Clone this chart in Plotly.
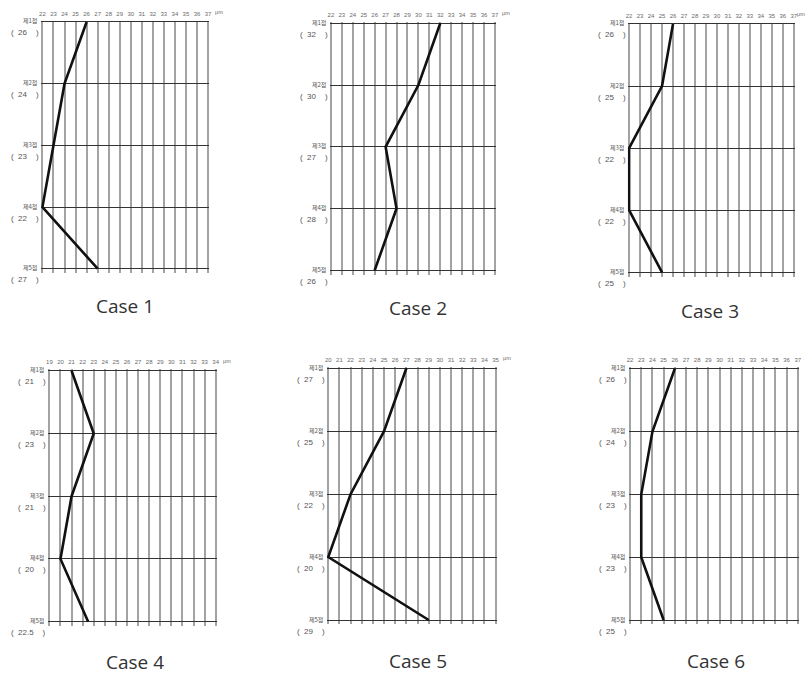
import plotly.graph_objects as go

W, H = 807, 675

row_names = ["제1점", "제2점", "제3점", "제4점", "제5점"]
row_pos = [1, 2, 3, 4, 5]

case_titles = ["Case 1", "Case 2", "Case 3", "Case 4", "Case 5", "Case 6"]

case1_values = [26, 24, 23, 22, 27]
case2_values = [32, 30, 27, 28, 26]
case3_values = [26, 25, 22, 22, 25]
case4_values = [21, 23, 21, 20, 22.5]
case5_values = [27, 25, 22, 20, 29]
case6_values = [26, 24, 23, 23, 25]

case1_labels = ["26", "24", "23", "22", "27"]
case2_labels = ["32", "30", "27", "28", "26"]
case3_labels = ["26", "25", "22", "22", "25"]
case4_labels = ["21", "23", "21", "20", "22.5"]
case5_labels = ["27", "25", "22", "20", "29"]
case6_labels = ["26", "24", "23", "23", "25"]

ticks_22_37 = [22, 23, 24, 25, 26, 27, 28, 29, 30, 31, 32, 33, 34, 35, 36, 37]
ticks_19_34 = [19, 20, 21, 22, 23, 24, 25, 26, 27, 28, 29, 30, 31, 32, 33, 34]
ticks_20_35 = [20, 21, 22, 23, 24, 25, 26, 27, 28, 29, 30, 31, 32, 33, 34, 35]

unit_label = "μm"

cases = [
    (case1_values, case1_labels, ticks_22_37),
    (case2_values, case2_labels, ticks_22_37),
    (case3_values, case3_labels, ticks_22_37),
    (case4_values, case4_labels, ticks_19_34),
    (case5_values, case5_labels, ticks_20_35),
    (case6_values, case6_labels, ticks_22_37),
]

# whether the unit label is visible inside the picture, and its offset (layout only)
show_unit = [True, True, True, True, True, False]
unit_shift = [5, 5, 1, 5, 5, 5]

# pixel geometry (layout only): first tick x, last tick x, row1 y, row5 y, caption center x, caption y
geom = [
    (40.7, 207.3, 22.0, 268.7, 124, 306),
    (331.0, 496.0, 23.3, 270.3, 419, 308),
    (631.0, 796.7, 24.0, 272.3, 712, 311),
    (47.7, 215.0, 370.7, 621.7, 134, 662),
    (328.3, 496.7, 368.3, 620.0, 419, 661),
    (632.0, 800.7, 368.7, 620.0, 718, 661),
]

fig = go.Figure()
annotations = []
XPAD = 0.12
YPAD_TOP = 0.02
YPAD_BOT = 0.07

for i, ((vals, labs, ticks), (pl, pr, pt, pb, cx, cy)) in enumerate(zip(cases, geom)):
    n = i + 1
    xa = "xaxis" if n == 1 else f"xaxis{n}"
    ya = "yaxis" if n == 1 else f"yaxis{n}"
    xr = "x" if n == 1 else f"x{n}"
    yr = "y" if n == 1 else f"y{n}"
    xmin, xmax = ticks[0], ticks[-1]
    ux = (pr - pl) / (xmax - xmin)
    uy = (pb - pt) / (row_pos[-1] - row_pos[0])
    d_left = (pl - XPAD * ux) / W
    d_right = (pr + XPAD * ux) / W
    top_px = pt - YPAD_TOP * uy
    bot_px = pb + YPAD_BOT * uy
    d_top = 1 - top_px / H
    d_bot = 1 - bot_px / H

    fig.add_trace(go.Scatter(
        x=vals, y=row_pos, mode="lines",
        line=dict(color="#111111", width=2.6),
        xaxis=xr, yaxis=yr, showlegend=False, hoverinfo="skip",
    ))

    fig.layout[xa] = dict(
        domain=[d_left, d_right], range=[xmin - XPAD, xmax + XPAD],
        side="top", anchor=yr, tickmode="array", tickvals=ticks,
        ticktext=[str(t) for t in ticks],
        showgrid=True, gridcolor="#a3a3a3", gridwidth=2,
        zeroline=False, showline=False, ticks="",
        tickfont=dict(size=6, color="#6a6a6a", family="Arial"),
        ticklabelstandoff=3, fixedrange=True,
    )
    fig.layout[ya] = dict(
        domain=[d_bot, d_top],
        range=[row_pos[-1] + YPAD_BOT, row_pos[0] - YPAD_TOP],
        anchor=xr, tickmode="array", tickvals=row_pos, showticklabels=False,
        showgrid=True, gridcolor="#333333", gridwidth=1.4,
        zeroline=False, showline=False, ticks="", fixedrange=True,
    )

    if show_unit[i]:
        annotations.append(dict(
            text=unit_label, xref=xr, yref="paper", x=xmax, y=1 - (pt - 10) / H,
            xanchor="left", yanchor="middle", xshift=unit_shift[i], showarrow=False,
            font=dict(size=5.5, color="#6a6a6a", family="Arial"),
        ))

    for r, name, lab in zip(row_pos, row_names, labs):
        annotations.append(dict(
            text=name, xref=f"{xr} domain", yref=yr, x=0, y=r,
            xanchor="right", yanchor="middle", xshift=-2, yshift=1, showarrow=False,
            font=dict(size=6, color="#555555", family="Noto Sans CJK KR"),
        ))
        annotations.append(dict(
            text=f"(&nbsp;&nbsp;{lab}&nbsp;&nbsp;&nbsp;&nbsp;)", xref=f"{xr} domain", yref=yr,
            x=0, y=r, xanchor="right", yanchor="middle", xshift=0, yshift=-11,
            showarrow=False, font=dict(size=8, color="#555555", family="Arial"),
        ))

    annotations.append(dict(
        text=case_titles[i], xref="paper", yref="paper", x=cx / W, y=1 - cy / H,
        xanchor="center", yanchor="middle", showarrow=False,
        font=dict(size=19, color="#333333", family="Open Sans"),
    ))

fig.update_layout(
    width=W, height=H, margin=dict(l=0, r=0, t=0, b=0),
    paper_bgcolor="white", plot_bgcolor="white",
    annotations=annotations, showlegend=False,
)

fig.write_html("out.html", config={"displayModeBar": False})
